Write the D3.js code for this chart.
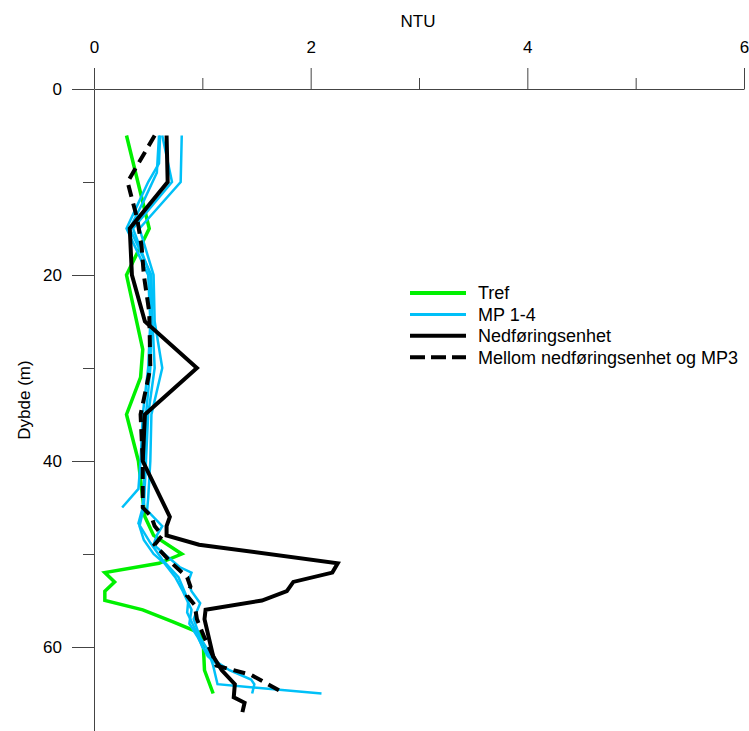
<!DOCTYPE html>
<html>
<head>
<meta charset="utf-8">
<script src="https://cdn.jsdelivr.net/npm/d3@7"></script>
<style>
  body { margin: 0; background: #fff; }
  svg { display: block; font-family: "Liberation Sans", Arial, sans-serif; }
</style>
</head>
<body>
<svg width="749" height="731"></svg>
<script>
// [depth (m), NTU]
const tref = [[5,0.30],[15,0.51],[20,0.30],[28,0.45],[31,0.43],[35,0.30],[40,0.41],[46,0.47],[48,0.55],
  [50,0.81],[51,0.60],[52,0.10],[53,0.19],[54,0.10],[55,0.10],[56,0.45],[57.3,0.73],[58.5,0.98],[60,1.01],
  [62.5,1.02],[65,1.10]];

const mp1 = [[5,0.61],[8,0.60],[10,0.50],[13,0.38],[15,0.30],[18,0.42],[20,0.50],[25,0.52],[30,0.50],
  [35,0.45],[40,0.43],[43,0.41],[45,0.26]];
const mp2 = [[5,0.81],[10,0.80],[15,0.42],[20,0.55],[25,0.56],[30,0.63],[35,0.53],[40,0.52],[44,0.50],
  [45.3,0.49],[47,0.63],[48,0.58],[49,0.55],[51.4,0.79],[52,0.90],[53,0.87],[54,0.90],[55.3,0.98],[57,0.92],
  [59,0.98],[60.3,1.05],[62,1.10],[64,1.14],[65,2.10]];
const mp3 = [[5,0.63],[10,0.72],[15,0.36],[20,0.52],[25,0.53],[30,0.52],[35,0.48],[40,0.47],[45,0.45],
  [46.7,0.41],[48.8,0.52],[50.6,0.63],[52.5,0.78],[55,0.87],[56.3,0.86],[58,0.93],[60,1.00],[61.5,1.12],
  [62.5,1.25],[63.5,1.45],[64,1.48],[65,1.46]];
const mp4 = [[5,0.60],[9,0.58],[12,0.46],[15,0.33],[20,0.53],[25,0.54],[30,0.56],[35,0.50],[40,0.48],
  [45,0.46],[47,0.42],[48.5,0.46],[50,0.55],[51,0.65],[52.5,0.75],[54,0.82],[56,0.90],[57.5,0.88],
  [59,0.96],[61,1.05],[62.5,1.20]];

const nedforing = [[5,0.67],[10,0.68],[15,0.33],[20,0.35],[25,0.47],[30,0.95],[35,0.47],[40,0.45],
  [46,0.70],[47,0.67],[48,0.67],[49,0.97],[51,2.25],[52,2.20],[53,1.84],[54,1.78],[55,1.55],[56,1.03],
  [57,1.02],[61,1.10],[62.5,1.18],[64,1.30],[65.4,1.29],[66,1.39],[67,1.37]];

const mellom = [[5,0.56],[10,0.31],[14,0.40],[17,0.44],[20,0.46],[24,0.51],[30,0.52],[35,0.43],[40,0.45],
  [45,0.45],[46,0.53],[47,0.56],[48,0.63],[49,0.56],[51,0.72],[52.5,0.86],[53.5,0.89],[54.5,0.86],
  [55.5,0.93],[57,0.95],[59,1.02],[61,1.10],[62,1.13],[63,1.45],[65,1.76]];

const xMajor = [0, 2, 4, 6];
const xMinor = [1, 3, 5];
const yMajor = [0, 20, 40, 60];
const yMinor = [10, 30, 50];
const legendLabels = ['Tref', 'MP 1-4', 'Nedføringsenhet', 'Mellom nedføringsenhet og MP3'];

const svg = d3.select('svg');
const x = d3.scaleLinear().domain([0, 6]).range([94, 744]);
const y = d3.scaleLinear().domain([0, 70]).range([89, 89 + 70 * 9.3]);

const axisColor = '#444';
const green = '#00f000';
const blue = '#00c0f8';

function styleAxis(g) {
  g.attr('font-size', 17).attr('font-family', null);
  g.selectAll('path, line').attr('stroke', axisColor);
  g.selectAll('text').attr('fill', '#000');
}

// x axis (top)
svg.append('g').attr('transform', 'translate(0,89)')
  .call(d3.axisTop(x).tickValues(xMajor).tickFormat(d3.format('d')).tickSize(21).tickSizeOuter(0).tickPadding(15))
  .call(styleAxis);
svg.append('g').attr('transform', 'translate(0,89)')
  .call(d3.axisTop(x).tickValues(xMinor).tickFormat('').tickSize(11).tickSizeOuter(0))
  .call(styleAxis)
  .select('.domain').remove();

// y axis (left)
svg.append('g').attr('transform', 'translate(94,0)')
  .call(d3.axisLeft(y).tickValues(yMajor).tickFormat(d3.format('d')).tickSize(22).tickSizeOuter(0).tickPadding(10))
  .call(styleAxis);
svg.append('g').attr('transform', 'translate(94,0)')
  .call(d3.axisLeft(y).tickValues(yMinor).tickFormat('').tickSize(11).tickSizeOuter(0))
  .call(styleAxis)
  .select('.domain').remove();

// axis titles
svg.append('text').attr('x', 418).attr('y', 27).attr('text-anchor', 'middle')
  .attr('font-size', 17).text('NTU');
svg.append('text').attr('transform', 'translate(30,400) rotate(-90)').attr('text-anchor', 'middle')
  .attr('font-size', 17).text('Dybde (m)');

const line = d3.line().x(d => x(d[1])).y(d => y(d[0]));

const series = [
  { data: tref, color: green, width: 3.5, dash: null },
  { data: mp1, color: blue, width: 2.5, dash: null },
  { data: mp2, color: blue, width: 2.5, dash: null },
  { data: mp3, color: blue, width: 2.5, dash: null },
  { data: mp4, color: blue, width: 2.5, dash: null },
  { data: nedforing, color: '#000', width: 4, dash: null },
  { data: mellom, color: '#000', width: 4, dash: '12,7' }
];

svg.append('g').selectAll('path')
  .data(series)
  .join('path')
  .attr('d', d => line(d.data))
  .attr('fill', 'none')
  .attr('stroke', d => d.color)
  .attr('stroke-width', d => d.width)
  .attr('stroke-dasharray', d => d.dash)
  .attr('stroke-linejoin', 'miter');

// legend
const legendStyles = [
  { color: green, width: 4, dash: null },
  { color: blue, width: 3, dash: null },
  { color: '#000', width: 4, dash: null },
  { color: '#000', width: 4, dash: '15,6' }
];
const leg = svg.append('g').selectAll('g')
  .data(legendLabels)
  .join('g')
  .attr('transform', (d, i) => `translate(410,${293 + i * 21.4})`);
leg.append('line')
  .attr('x1', 0).attr('x2', 56)
  .attr('stroke', (d, i) => legendStyles[i].color)
  .attr('stroke-width', (d, i) => legendStyles[i].width)
  .attr('stroke-dasharray', (d, i) => legendStyles[i].dash);
leg.append('text')
  .attr('x', 68).attr('dy', '0.35em')
  .attr('font-size', 18)
  .text(d => d);
</script>
</body>
</html>
